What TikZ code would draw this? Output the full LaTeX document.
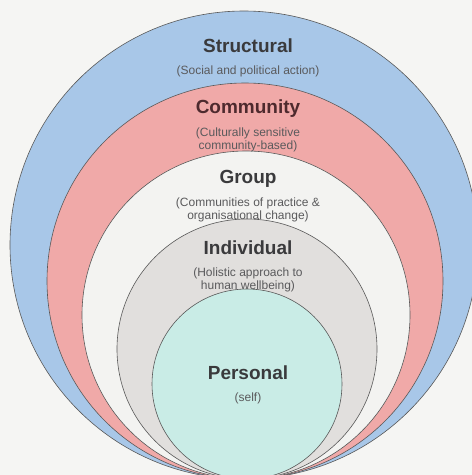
\documentclass[tikz,border=0pt]{standalone}
\usepackage{fontspec}
\setmainfont{Liberation Sans}
\usetikzlibrary{positioning}
\definecolor{ringBlue}{HTML}{A8C7E8}
\definecolor{ringPink}{HTML}{F0A9A8}
\definecolor{ringWhite}{HTML}{F3F3F1}
\definecolor{ringGrey}{HTML}{E1DFDD}
\definecolor{ringCyan}{HTML}{C9ECE6}
\definecolor{paper}{HTML}{F5F5F3}
\definecolor{titleDark}{HTML}{3A3A3C}
\definecolor{titleMaroon}{HTML}{4E2A2E}
\definecolor{subGrey}{HTML}{5A5A5C}

\begin{document}
\begin{tikzpicture}[
    x=1pt, y=-1pt,
    ring/.style={draw=black!65, line width=0.6pt},
    ringtitle/.style={font=\fontsize{19}{21}\selectfont\bfseries, text=titleDark, inner sep=0pt},
    ringsub/.style={font=\fontsize{12}{13.5}\selectfont, text=subGrey, align=center, inner sep=0pt},
  ]
    \useasboundingbox (0,0) rectangle (472,475);
    \fill[paper] (0,0) rectangle (472,475);
    \clip (0,0) rectangle (472,475);

    % nested rings, all touching at the bottom
    \draw[ring, fill=ringBlue]  (244,245) circle[radius=234];
    \draw[ring, fill=ringPink]  (245,281) circle[radius=198];
    \draw[ring, fill=ringWhite] (246,315) circle[radius=164];
    \draw[ring, fill=ringGrey]  (247,349) circle[radius=130];
    \draw[ring, fill=ringCyan]  (247,384) circle[radius=95];

    \node[ringtitle] (structural) at (248,46) {Structural};
    \node[ringsub] (structuralsub) at (248,71) {(Social and political action)};

    \node[ringtitle, text=titleMaroon] (community) at (248,109) {Community};
    \node[ringsub] (communitysub) at (248,140) {(Culturally sensitive\\community-based)};

    \node[ringtitle] (group) at (248,179) {Group};
    \node[ringsub] (groupsub) at (248,210) {(Communities of practice \&\\organisational change)};

    \node[ringtitle] (individual) at (248,248) {Individual};
    \node[ringsub] (individualsub) at (248,280) {(Holistic approach to\\human wellbeing)};

    \node[ringtitle] (personal) at (248,373) {Personal};
    \node[ringsub] (personalsub) at (248,398) {(self)};
  \end{tikzpicture}
\end{document}
